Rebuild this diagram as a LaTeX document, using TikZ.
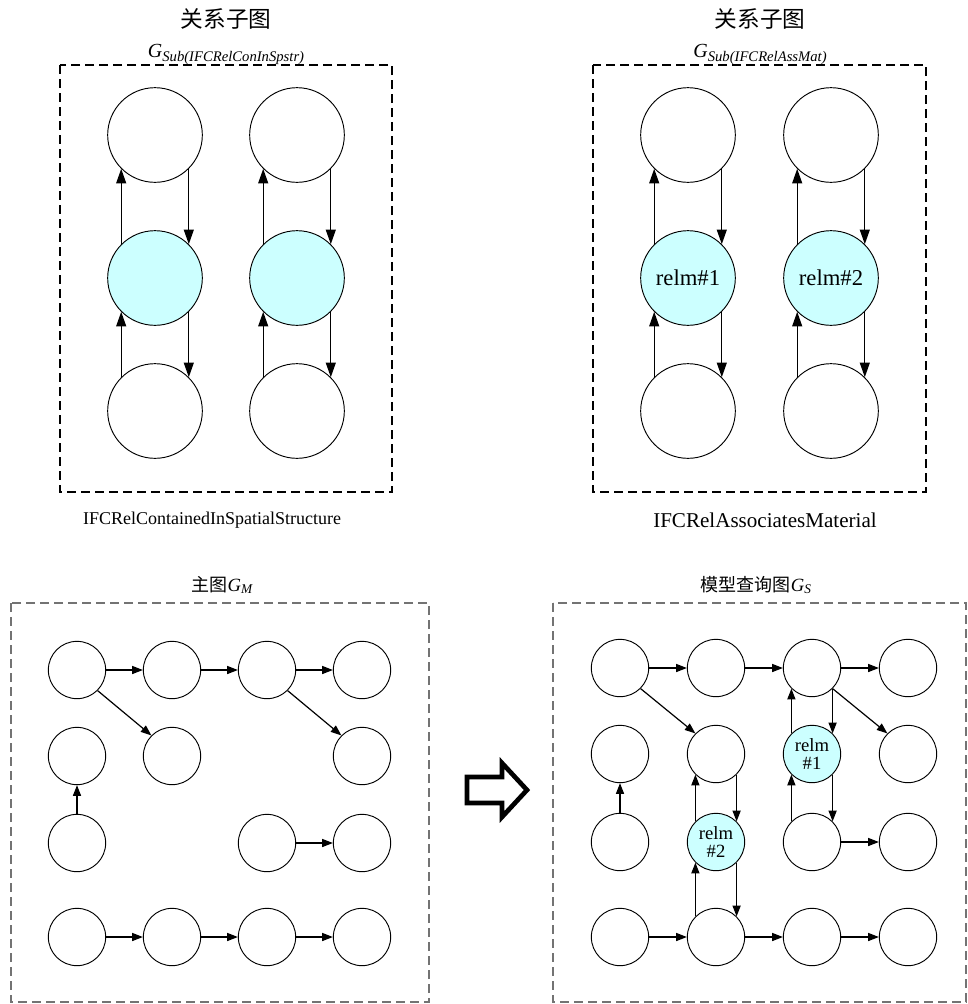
\documentclass[tikz,border=0pt]{standalone}
\usepackage{fontspec}
\setmainfont{Liberation Serif}
\newfontfamily\cjk{Noto Sans CJK SC}
\usetikzlibrary{arrows.meta}

\definecolor{relmfill}{HTML}{CCFFFF}
\tikzset{
  bignode/.style={circle,draw,line width=0.7pt,minimum size=71pt,inner sep=0pt,
    font=\fontsize{17}{19}\selectfont},
  smallnode/.style={circle,draw,line width=0.7pt,minimum size=43pt,inner sep=0pt,
    align=center,font=\fontsize{14}{14}\selectfont},
  relm/.style={fill=relmfill},
  bigedge/.style={line width=1pt,-{Triangle[length=11pt,width=7.5pt]}},
  smalledge/.style={line width=0.9pt,-{Triangle[length=8pt,width=6pt]}},
  frame/.style={dashed,dash pattern=on 6.5pt off 4pt,line width=0.8pt},
}

\begin{document}
\begin{tikzpicture}[x=0.75pt,y=-0.75pt]
\useasboundingbox (0,0) rectangle (968,1004);

% relation subgraphs
\draw[frame] (60,65) rectangle (392,492);
\draw[frame] (593,65) rectangle (926,492);

\node (tl) at (226,19) {\cjk\fontsize{17}{19}\selectfont 关系子图};
\node (tr) at (760,19) {\cjk\fontsize{17}{19}\selectfont 关系子图};
\node[anchor=base,inner sep=1pt] (gl) at (226,57)
  {\fontsize{15}{17}\selectfont\itshape G\raisebox{-3pt}{\fontsize{11}{12}\selectfont Sub(IFCRelConInSpstr)}};
\node[anchor=base,inner sep=1pt] (gr) at (760,57)
  {\fontsize{15}{17}\selectfont\itshape G\raisebox{-3pt}{\fontsize{11}{12}\selectfont Sub(IFCRelAssMat)}};
\node (nl) at (212,520) {\fontsize{13.5}{15}\selectfont IFCRelContainedInSpatialStructure};
\node (nr) at (765,520) {\fontsize{15.8}{17}\selectfont IFCRelAssociatesMaterial};

\node[bignode] (t1) at (155,135) {};
\node[bignode,relm] (m1) at (155,278) {};
\node[bignode] (b1) at (155,411) {};
\node[bignode] (t2) at (297,135) {};
\node[bignode,relm] (m2) at (297,278) {};
\node[bignode] (b2) at (297,411) {};

\node[bignode] (t3) at (688,135) {};
\node[bignode,relm] (m3) at (688,278) {relm\#1};
\node[bignode] (b3) at (688,411) {};
\node[bignode] (t4) at (831,135) {};
\node[bignode,relm] (m4) at (831,278) {relm\#2};
\node[bignode] (b4) at (831,411) {};

\foreach \i in {1,2,3,4}{
  \draw[bigedge] (m\i.135) -- (t\i.225);
  \draw[bigedge] (t\i.-45) -- (m\i.45);
  \draw[bigedge] (b\i.135) -- (m\i.225);
  \draw[bigedge] (m\i.-45) -- (b\i.45);
}

% main graph
\draw[frame,gray!90!black] (11,603) rectangle (429,1002);
\node (tm) at (222,585) {{\cjk\fontsize{13.5}{15}\selectfont 主图}\fontsize{14}{15}\selectfont\itshape G\raisebox{-2pt}{\fontsize{10}{11}\selectfont M}};

\foreach \x [count=\i] in {77,172,267,362}{
  \node[smallnode] (ma\i) at (\x,670) {};
  \node[smallnode] (md\i) at (\x,937) {};
}
\node[smallnode] (mb1) at (77,756) {};
\node[smallnode] (mb2) at (172,756) {};
\node[smallnode] (mb4) at (362,756) {};
\node[smallnode] (mc1) at (77,843) {};
\node[smallnode] (mc3) at (267,843) {};
\node[smallnode] (mc4) at (362,843) {};

\draw[smalledge] (ma1) -- (ma2);
\draw[smalledge] (ma2) -- (ma3);
\draw[smalledge] (ma3) -- (ma4);
\draw[smalledge] (ma1.-45) -- (mb2.135);
\draw[smalledge] (ma3.-45) -- (mb4.135);
\draw[smalledge] (mc1) -- (mb1);
\draw[smalledge] (mc3) -- (mc4);
\draw[smalledge] (md1) -- (md2);
\draw[smalledge] (md2) -- (md3);
\draw[smalledge] (md3) -- (md4);

% hollow arrow
\draw[line width=3.5pt,miter limit=3] (467,777) -- (502,777) -- (502,763) -- (527,790)
  -- (502,817) -- (502,803) -- (467,803) -- cycle;

% query graph
\draw[frame,gray!90!black] (553,603) rectangle (966,1002);
\node (ts) at (756,585) {{\cjk\fontsize{13.5}{15}\selectfont 模型查询图}\fontsize{14}{15}\selectfont\itshape G\raisebox{-2pt}{\fontsize{10}{11}\selectfont S}};

\foreach \x [count=\i] in {620,716,812,908}{
  \node[smallnode] (sa\i) at (\x,668) {};
  \node[smallnode] (sd\i) at (\x,937) {};
}
\node[smallnode] (sb1) at (620,754) {};
\node[smallnode] (sb2) at (716,754) {};
\node[smallnode,relm] (sb3) at (812,754) {relm\\\#1};
\node[smallnode] (sb4) at (908,754) {};
\node[smallnode] (sc1) at (620,842) {};
\node[smallnode,relm] (sc2) at (716,842) {relm\\\#2};
\node[smallnode] (sc3) at (812,842) {};
\node[smallnode] (sc4) at (908,842) {};

\draw[smalledge] (sa1) -- (sa2);
\draw[smalledge] (sa2) -- (sa3);
\draw[smalledge] (sa3) -- (sa4);
\draw[smalledge] (sa1.-45) -- (sb2.135);
\draw[smalledge] (sa3.-45) -- (sb4.135);
\draw[smalledge] (sb3.135) -- (sa3.225);
\draw[smalledge] (sa3.-45) -- (sb3.45);
\draw[smalledge] (sc3.135) -- (sb3.225);
\draw[smalledge] (sb3.-45) -- (sc3.45);
\draw[smalledge] (sc3) -- (sc4);
\draw[smalledge] (sc1) -- (sb1);
\draw[smalledge] (sc2.135) -- (sb2.225);
\draw[smalledge] (sb2.-45) -- (sc2.45);
\draw[smalledge] (sd2.135) -- (sc2.225);
\draw[smalledge] (sc2.-45) -- (sd2.45);
\draw[smalledge] (sd1) -- (sd2);
\draw[smalledge] (sd2) -- (sd3);
\draw[smalledge] (sd3) -- (sd4);
\end{tikzpicture}
\end{document}
